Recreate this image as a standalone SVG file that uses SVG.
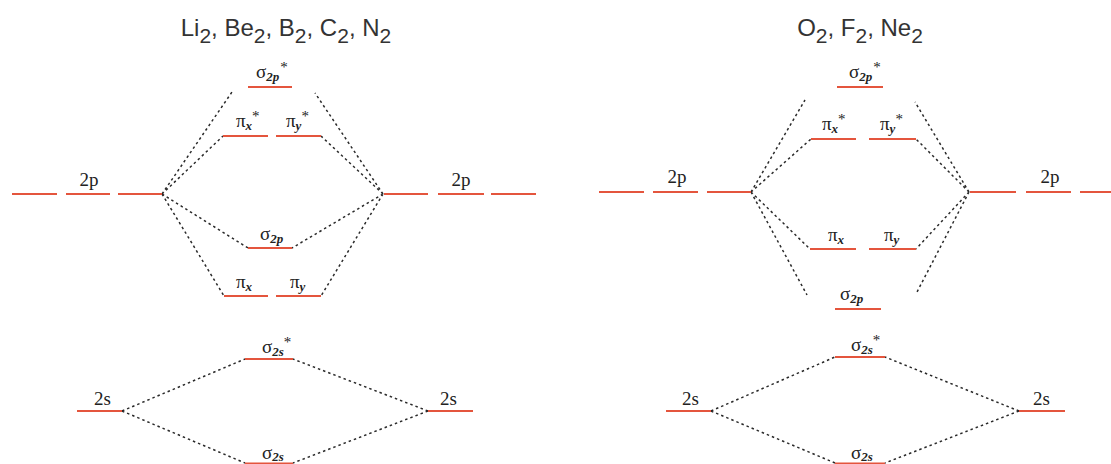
<svg xmlns="http://www.w3.org/2000/svg" width="1111" height="464" viewBox="0 0 1111 464">
<style>
.lvl{stroke:#e4553d;stroke-width:2;fill:none}
.con{stroke:#2a2a2a;stroke-width:1.5;stroke-dasharray:2.5 3;fill:none}
.lab{font-family:"Liberation Serif","Times New Roman",serif;font-size:19px;fill:#222}
.sub{font-size:13px;font-style:italic;font-weight:bold}
.st{font-size:15px}
.ttl{font-family:"Liberation Sans",Arial,sans-serif;font-size:24px;fill:#333}
.ts{font-size:21px}
</style>
<rect width="1111" height="464" fill="#ffffff"/>
<text class="ttl" x="286" y="36" text-anchor="middle">Li<tspan class="ts" dy="7">2</tspan><tspan dy="-7">, Be</tspan><tspan class="ts" dy="7">2</tspan><tspan dy="-7">, B</tspan><tspan class="ts" dy="7">2</tspan><tspan dy="-7">, C</tspan><tspan class="ts" dy="7">2</tspan><tspan dy="-7">, N</tspan><tspan class="ts" dy="7">2</tspan></text>
<text class="ttl" x="860" y="36" text-anchor="middle">O<tspan class="ts" dy="7">2</tspan><tspan dy="-7">, F</tspan><tspan class="ts" dy="7">2</tspan><tspan dy="-7">, Ne</tspan><tspan class="ts" dy="7">2</tspan></text>
<g id="connectors">
<path class="con" d="M162,194 L232,92 M162,194 L223,136 M162,194 L248,248 M162,194 L224,296"/>
<path class="con" d="M383,194 L315,93 M383,194 L321,136 M383,194 L292,248 M383,194 L321,296"/>
<path class="con" d="M122,411 L245,359 M122,411 L245,463 M428,411 L293,359 M428,411 L293,463"/>
<path class="con" d="M751,192 L805,100 M751,192 L811,139 M751,192 L810,249 M751,192 L807,295"/>
<path class="con" d="M969,192 L915,102 M969,192 L916,139 M969,192 L916,249 M969,192 L917,292"/>
<path class="con" d="M711,411 L835,357 M711,411 L835,463 M1019,411 L885,357 M1019,411 L885,463"/>
</g>
<g id="L-2p-left"><path class="lvl" d="M12,194H57M66,194H110M118,194H162"/><text class="lab" x="89" y="186" text-anchor="middle">2p</text></g>
<g id="L-2p-right"><path class="lvl" d="M384,194H428M438,194H484M491,194H536"/><text class="lab" x="461" y="186" text-anchor="middle">2p</text></g>
<g id="L-sigma2p-star"><path class="lvl" d="M248,87H292"/><text class="lab" x="256" y="78">σ<tspan class="sub" dy="3">2p</tspan><tspan class="st" dx="1" dy="-9">*</tspan></text></g>
<g id="L-pix-star"><path class="lvl" d="M223,136H268"/><text class="lab" x="236" y="127">π<tspan class="sub" dy="3">x</tspan><tspan class="st" dy="-9">*</tspan></text></g>
<g id="L-piy-star"><path class="lvl" d="M276,136H321"/><text class="lab" x="286" y="127">π<tspan class="sub" dy="3">y</tspan><tspan class="st" dy="-9">*</tspan></text></g>
<g id="L-sigma2p"><path class="lvl" d="M248,248H292"/><text class="lab" x="260" y="240">σ<tspan class="sub" dy="3">2p</tspan></text></g>
<g id="L-pix"><path class="lvl" d="M224,296H268"/><text class="lab" x="236" y="288">π<tspan class="sub" dy="3">x</tspan></text></g>
<g id="L-piy"><path class="lvl" d="M276,296H321"/><text class="lab" x="290" y="288">π<tspan class="sub" dy="3">y</tspan></text></g>
<g id="L-2s-left"><path class="lvl" d="M77,411H122"/><text class="lab" x="94" y="405">2s</text></g>
<g id="L-2s-right"><path class="lvl" d="M428,411H473"/><text class="lab" x="440" y="405">2s</text></g>
<g id="L-sigma2s-star"><path class="lvl" d="M245,359H293"/><text class="lab" x="262" y="353">σ<tspan class="sub" dy="3">2s</tspan><tspan class="st" dx="0" dy="-9">*</tspan></text></g>
<g id="L-sigma2s"><path class="lvl" d="M245,463.5H293"/><text class="lab" x="262" y="459">σ<tspan class="sub" dy="2">2s</tspan></text></g>
<g id="R-2p-left"><path class="lvl" d="M599,192H644M653,192H698M707,192H751"/><text class="lab" x="677" y="183" text-anchor="middle">2p</text></g>
<g id="R-2p-right"><path class="lvl" d="M970,192H1016M1026,192H1071M1080,192H1125"/><text class="lab" x="1050" y="183" text-anchor="middle">2p</text></g>
<g id="R-sigma2p-star"><path class="lvl" d="M837,87H883"/><text class="lab" x="849" y="78">σ<tspan class="sub" dy="3">2p</tspan><tspan class="st" dx="1" dy="-9">*</tspan></text></g>
<g id="R-pix-star"><path class="lvl" d="M811,139H856"/><text class="lab" x="822" y="130">π<tspan class="sub" dy="3">x</tspan><tspan class="st" dy="-9">*</tspan></text></g>
<g id="R-piy-star"><path class="lvl" d="M869,139H916"/><text class="lab" x="880" y="130">π<tspan class="sub" dy="3">y</tspan><tspan class="st" dy="-9">*</tspan></text></g>
<g id="R-pix"><path class="lvl" d="M810,249H856"/><text class="lab" x="828" y="241">π<tspan class="sub" dy="3">x</tspan></text></g>
<g id="R-piy"><path class="lvl" d="M869,249H916"/><text class="lab" x="884" y="241">π<tspan class="sub" dy="3">y</tspan></text></g>
<g id="R-sigma2p"><path class="lvl" d="M835,309H881"/><text class="lab" x="840" y="300">σ<tspan class="sub" dy="3">2p</tspan></text></g>
<g id="R-2s-left"><path class="lvl" d="M666,411H711"/><text class="lab" x="682" y="405">2s</text></g>
<g id="R-2s-right"><path class="lvl" d="M1019,411H1065"/><text class="lab" x="1033" y="405">2s</text></g>
<g id="R-sigma2s-star"><path class="lvl" d="M835,357H885"/><text class="lab" x="851" y="351">σ<tspan class="sub" dy="3">2s</tspan><tspan class="st" dx="0" dy="-9">*</tspan></text></g>
<g id="R-sigma2s"><path class="lvl" d="M835,463.5H885"/><text class="lab" x="851" y="459">σ<tspan class="sub" dy="2">2s</tspan></text></g>
</svg>
